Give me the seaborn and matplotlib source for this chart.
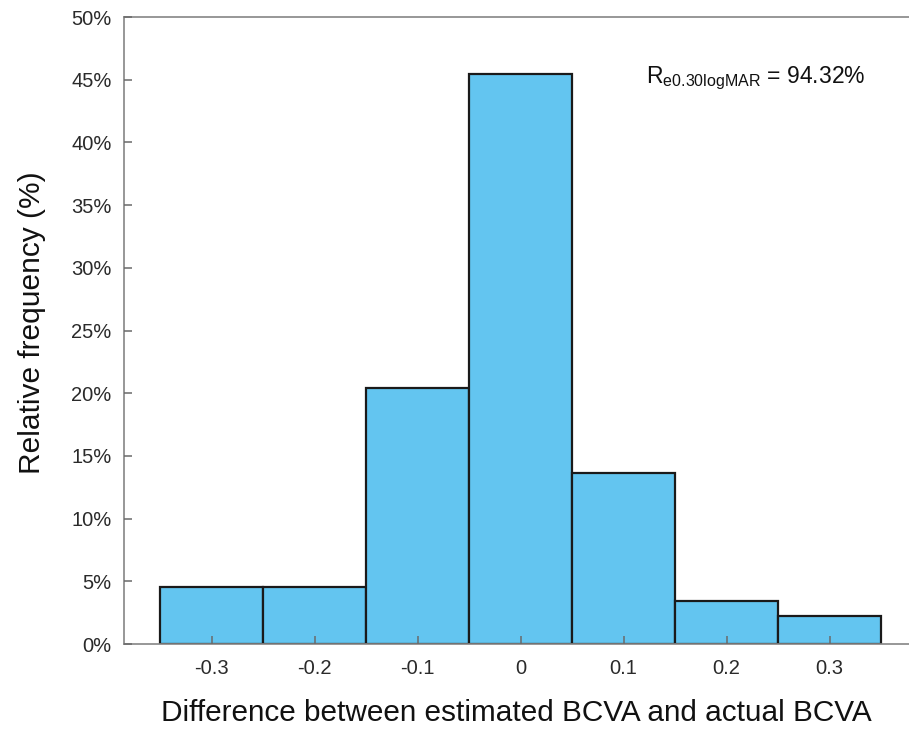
import pandas as pd
import seaborn as sns
import matplotlib.pyplot as plt
from matplotlib.ticker import FuncFormatter

# difference bins (logMAR) and relative frequency (%)
diff_bins = [-0.3, -0.2, -0.1, 0.0, 0.1, 0.2, 0.3]
rel_freq = [4.55, 4.55, 20.45, 45.45, 13.64, 3.41, 2.27]
y_ticks = [0, 5, 10, 15, 20, 25, 30, 35, 40, 45, 50]
x_ticks = [-0.3, -0.2, -0.1, 0, 0.1, 0.2, 0.3]
x_ticklabels = ["-0.3", "-0.2", "-0.1", "0", "0.1", "0.2", "0.3"]

df = pd.DataFrame({"diff": diff_bins, "freq": rel_freq})

sns.set_style("ticks")
plt.rcParams['font.family'] = ['Liberation Sans', 'DejaVu Sans']
plt.rcParams['mathtext.fontset'] = 'custom'
plt.rcParams['mathtext.rm'] = 'Liberation Sans'
plt.rcParams['mathtext.it'] = 'Liberation Sans'

fig = plt.figure(figsize=(9.09, 7.3), dpi=100)
ax = fig.add_axes([0.1364, 0.1178, 0.8636, 0.8589])

# bins of width 0.1 centred on each difference value
sns.histplot(data=df, x="diff", weights="freq", binwidth=0.1, binrange=(-0.35, 0.35),
             ax=ax, color='#63C5F0', edgecolor='#1a1a1a', linewidth=1.6, alpha=1)

ax.set_axisbelow(False)  # inward ticks show on top of the bars
ax.set_xlim(-0.385, 0.377)
ax.set_ylim(0, 50)
ax.set_yticks(y_ticks)
ax.yaxis.set_major_formatter(FuncFormatter(lambda v, p: f"{v:.0f}%"))
ax.set_xticks(x_ticks)
ax.set_xticklabels(x_ticklabels)

for side in ['left', 'bottom', 'top']:
    ax.spines[side].set_color('#858585')
    ax.spines[side].set_linewidth(1.2)
ax.spines['right'].set_visible(False)
ax.tick_params(direction='in', length=6, width=1.1, color='#6a6a6a',
               labelsize=14.5, labelcolor='#2a2a2a', pad=9)
ax.tick_params(axis='x', pad=11)

ax.set_xlabel("Difference between estimated BCVA and actual BCVA", fontsize=21.4,
              color='#111111', labelpad=15)
ax.set_ylabel("Relative frequency (%)", fontsize=21.5, color='#111111', labelpad=18)
ax.yaxis.label.set_y(0.513)

ax.text(0.665, 0.895, r"R$_{\mathrm{e0.30logMAR}}$ = 94.32%", transform=ax.transAxes,
        fontsize=16.5, color='#111111', ha='left', va='baseline')

fig.savefig("out.png", dpi=100)
